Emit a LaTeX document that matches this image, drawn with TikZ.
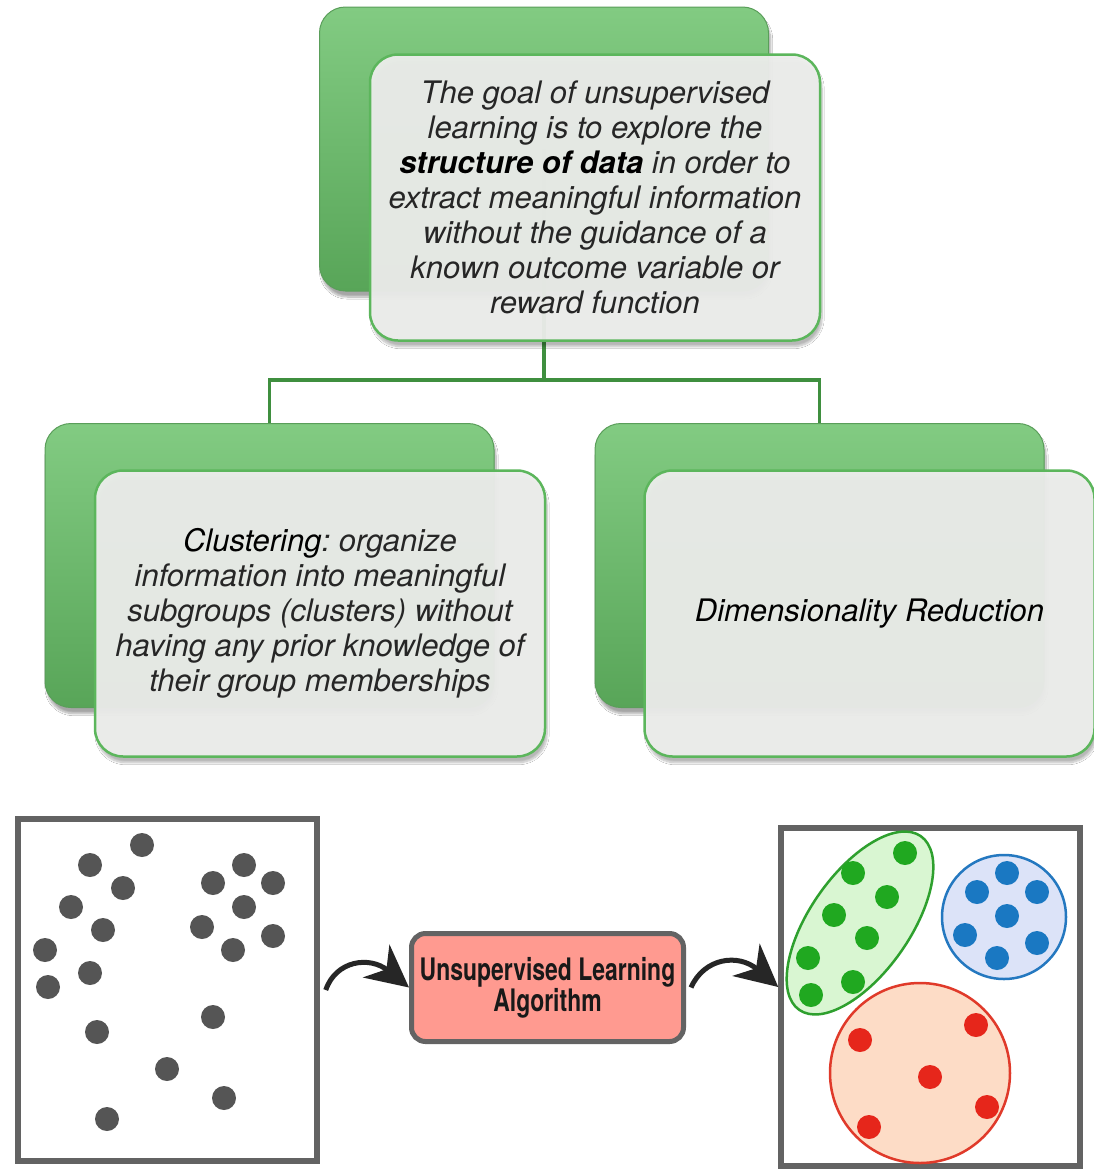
\documentclass[tikz,border=0pt]{standalone}
\usepackage{fontspec}
\setmainfont{TeX Gyre Heros}
\usetikzlibrary{shadows.blur,arrows.meta}
\frenchspacing
\definecolor{backtop}{HTML}{82CB82}
\definecolor{backbot}{HTML}{58A558}
\definecolor{backedge}{HTML}{5A9E5A}
\definecolor{frontedge}{HTML}{5CB65C}
\definecolor{frontfill}{HTML}{EDEEEC}
\definecolor{linkgreen}{HTML}{3F8F3F}
\definecolor{bodytext}{HTML}{262626}
\definecolor{framegray}{HTML}{636363}
\definecolor{dotgray}{HTML}{555555}
\definecolor{algfill}{HTML}{FF9A90}
\definecolor{gdot}{HTML}{20A820}
\definecolor{gedge}{HTML}{2EA02E}
\definecolor{gfill}{HTML}{D9F6D2}
\definecolor{bdot}{HTML}{1A78C2}
\definecolor{bedge}{HTML}{2478C0}
\definecolor{bfill}{HTML}{DCE3F8}
\definecolor{rdot}{HTML}{E6261B}
\definecolor{redge}{HTML}{E03A2A}
\definecolor{rfill}{HTML}{FDDCC6}
\begin{document}
\begin{tikzpicture}[x=1pt,y=-1pt,
  backbox/.style={rectangle, rounded corners=26pt, minimum width=449pt, minimum height=284pt,
    top color=backtop, bottom color=backbot, draw=backedge, line width=1pt,
    blur shadow={shadow xshift=2pt, shadow yshift=-6pt, shadow blur steps=10, shadow opacity=35}},
  frontbox/.style={rectangle, rounded corners=28pt, minimum width=450pt, minimum height=286pt,
    fill=frontfill, fill opacity=0.95, text opacity=1, draw=frontedge, line width=2.5pt,
    blur shadow={shadow xshift=2pt, shadow yshift=-6pt, shadow blur steps=10, shadow opacity=30},
    align=center, text=bodytext, font=\fontsize{31}{35}\selectfont\itshape},
  link/.style={draw=linkgreen, line width=3.5pt},
  frame/.style={rectangle, draw=framegray, line width=5.5pt, fill=white},
  algbox/.style={rectangle, rounded corners=14pt, fill=algfill, draw=framegray, line width=5pt,
    minimum width=272pt, minimum height=108pt, align=center, text=black!90,
    font=\fontsize{31}{27}\selectfont\bfseries},
  bigarrow/.style={line width=5pt, black!85, -{Stealth[length=42pt,width=42pt,inset=13pt]}},
  dot/.style={radius=12pt}
]
\useasboundingbox (0,0) rectangle (1094,1170);
\fill[white] (0,0) rectangle (1094,1170);

% back boxes
\node[backbox] (topback) at (544,149) {};
\node[backbox] (leftback) at (269.5,565.5) {};
\node[backbox] (rightback) at (819.5,565.5) {};

% connectors
\draw[link] (topback.center) -- (544,380) coordinate (hub);
\draw[link] (hub) -| (leftback.north);
\draw[link] (hub) -| (rightback.north);

% front boxes
\node[frontbox] (topfront) at (595,197.5) {The goal of unsupervised\\learning is to explore the\\\textcolor{black}{\textbf{structure of data}} in order to\\extract meaningful information\\without the guidance of a\\known outcome variable or\\reward function};
\node[frontbox] (leftfront) at (320,613.5) {\textcolor{black}{Clustering}: organize\\information into meaningful\\subgroups (clusters) without\\having any prior knowledge of\\their group memberships};
\node[frontbox, text=black] (rightfront) at (869.5,613.5) {Dimensionality Reduction};

% bottom part
\node[frame, minimum width=299pt, minimum height=342pt] (raw) at (167.5,990) {};
\node[frame, minimum width=299pt, minimum height=338pt] (clustered) at (930.5,997) {};
\node[algbox] (alg) at (547.5,987.5) {\scalebox{0.74}[1]{Unsupervised Learning}\\\scalebox{0.74}[1]{Algorithm}};

\draw[bigarrow] ([xshift=6pt]raw.east) .. controls (336,960) and (370,956) .. (alg.west);
\draw[bigarrow] ([xshift=5pt]alg.east) .. controls (704,958) and (738,953) .. ([yshift=10pt]clustered.west);

% raw data points
\foreach \p in {(142,845),(90,865),(123,888),(71,907),(103,930),(45,950),(90,973),(48,987),
  (97,1032),(167,1069),(107,1119),(213,1017),(224,1098),(213,883),(244,865),(273,883),
  (244,907),(202,927),(273,936),(233,950)}
  \fill[dotgray] \p circle[dot];

% clusters
\draw[gedge, fill=gfill, line width=2.5pt, rotate around={55:(860,923)}] (860,923) ellipse [x radius=106pt, y radius=50pt];
\draw[bedge, fill=bfill, line width=2.5pt] (1004,917) circle[radius=62pt];
\draw[redge, fill=rfill, line width=2.5pt] (920,1073) circle[radius=90pt];
\foreach \p in {(905,853),(853,873),(887,897),(834,915),(867,938),(808,958),(853,982),(811,995)}
  \fill[gdot] \p circle[dot];
\foreach \p in {(1007,873),(977,892),(1037,892),(1007,916),(965,935),(1037,943),(997,958)}
  \fill[bdot] \p circle[dot];
\foreach \p in {(860,1040),(976,1025),(930,1077),(987,1107),(869,1127)}
  \fill[rdot] \p circle[dot];
\end{tikzpicture}
\end{document}
